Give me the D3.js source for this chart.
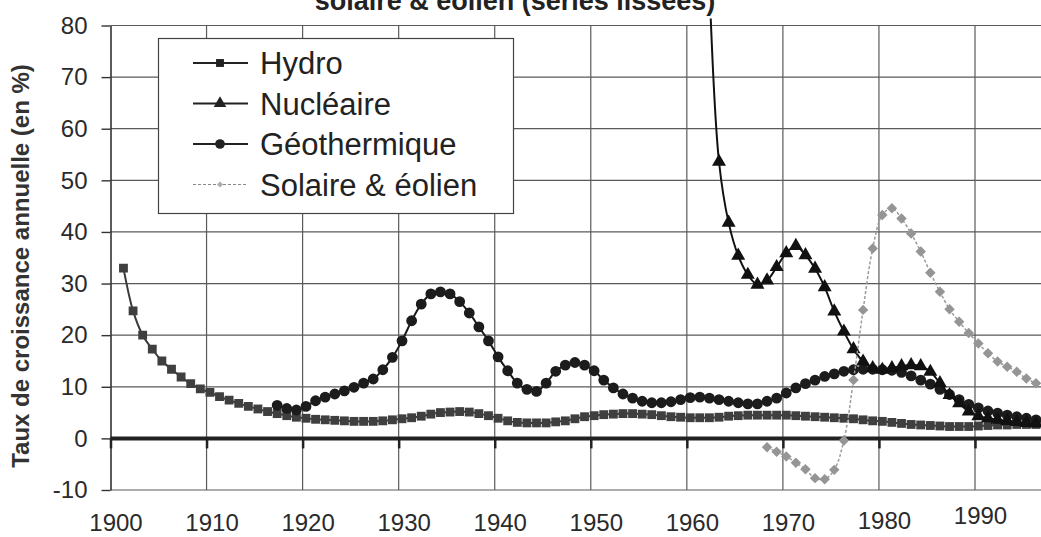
<!DOCTYPE html>
<html>
<head>
<meta charset="utf-8">
<script src="https://cdn.jsdelivr.net/npm/d3@7/dist/d3.min.js"></script>
<style>
  body { margin: 0; background: #fff; }
  svg { display: block; }
  text { font-family: "Liberation Sans", Arial, Helvetica, sans-serif; }
</style>
</head>
<body>
<svg id="chart" width="1041" height="537"></svg>
<script>
// ---------------- DATA ----------------
const yearTicks = [1900, 1910, 1920, 1930, 1940, 1950, 1960, 1970, 1980, 1990];
const valueTicks = [-10, 0, 10, 20, 30, 40, 50, 60, 70, 80];
const seriesNames = ["Hydro", "Nucléaire", "Géothermique", "Solaire & éolien"];

const hydroStart = 1901;
const hydroValues = [
  33, 24.7, 20, 17.3, 15, 13.4, 11.9, 10.6, 9.6, 8.9,
  8.1, 7.4, 6.8, 6.2, 5.7, 5.2, 4.8, 4.4, 4.1, 3.9,
  3.7, 3.6, 3.5, 3.4, 3.3, 3.3, 3.3, 3.4, 3.6, 3.8,
  4.0, 4.3, 4.7, 5.0, 5.1, 5.2, 5.1, 4.8, 4.4, 3.9,
  3.4, 3.1, 3.0, 3.0, 3.0, 3.2, 3.4, 3.8, 4.2, 4.4,
  4.6, 4.7, 4.8, 4.8, 4.7, 4.6, 4.4, 4.2, 4.1, 4.0,
  4.0, 4.0, 4.1, 4.3, 4.4, 4.5, 4.5, 4.5, 4.5, 4.5,
  4.4, 4.3, 4.2, 4.1, 4.0, 3.9, 3.8, 3.6, 3.4, 3.3,
  3.1, 2.9, 2.7, 2.6, 2.5, 2.4, 2.3, 2.3, 2.3, 2.4,
  2.5, 2.6, 2.6, 2.7, 2.7, 2.7
];

const nuclearStart = 1962;
const nuclearValues = [
  88, 53.6, 41.8, 35.4, 31.7, 29.8, 30.6, 33.2, 35.9, 37.3,
  35.5, 32.9, 29.3, 24.6, 20.7, 17.3, 14.9, 13.6, 13.3, 13.6,
  14.0, 14.2, 14.0, 12.9, 10.7, 8.4, 6.8, 5.2, 4.3, 3.9,
  3.6, 3.4, 3.2, 3.0, 2.9
];

const geoStart = 1917;
const geoValues = [
  6.4, 5.8, 5.5, 6.2, 7.3, 8.0, 8.6, 9.2, 9.9, 10.7,
  11.5, 13.3, 15.7, 18.9, 22.8, 26.0, 28.0, 28.4, 28.0, 26.5,
  24.3, 21.6, 18.9, 15.8, 13.1, 10.7, 9.5, 9.1, 10.7, 13.0,
  14.2, 14.7, 14.2, 13.1, 11.3, 9.8, 8.6, 7.8, 7.2, 6.9,
  6.9, 7.1, 7.5, 7.9, 8.0, 7.8, 7.5, 7.2, 6.9, 6.7,
  6.7, 7.2, 7.8, 8.8, 9.8, 10.6, 11.3, 12.0, 12.5, 13.0,
  13.3, 13.4, 13.4, 13.3, 13.2, 12.8, 12.1, 11.3, 10.5, 9.5,
  8.5, 7.5, 6.6, 5.9, 5.3, 4.9, 4.5, 4.2, 3.9, 3.6
];

const solarStart = 1968;
const solarValues = [
  -1.7, -2.6, -3.5, -4.7, -6.0, -7.7, -7.9, -6.1, -0.4, 11.3,
  24.9, 36.8, 43.3, 44.6, 42.6, 39.7, 36.2, 32.1, 28.4, 25.0,
  22.6, 20.4, 18.4, 16.5, 14.9, 13.9, 12.9, 11.6, 10.7
];

const titleText = "solaire & éolien (séries lissées)";
const yTitleText = "Taux de croissance annuelle (en %)";

// ---------------- LAYOUT ----------------
const svg = d3.select("#chart");
const pLeft = 110.5, pRight = 1041, pTop = 25.5, pBottom = 490;
const yearOffset = 0.35; // points plotted slightly after the year tick

const x = d3.scaleLinear().domain([1900, 1990]).range([pLeft, 975]);
const y = d3.scaleLinear().domain([-10, 80]).range([pBottom, pTop]);

function toPoints(start, vals) { return vals.map((v, i) => ({ year: start + i, v })); }
const hydro = toPoints(hydroStart, hydroValues);
const nuclear = toPoints(nuclearStart, nuclearValues);
const geo = toPoints(geoStart, geoValues);
const solar = toPoints(solarStart, solarValues);

svg.append("defs").append("clipPath").attr("id", "plotClip")
  .append("rect").attr("x", pLeft).attr("y", pTop - 7).attr("width", pRight - pLeft).attr("height", pBottom - pTop + 20);

// Title (partially cut at top, as in the reference)
svg.append("text").attr("x", 515).attr("y", 10)
  .attr("text-anchor", "middle").attr("font-weight", "bold").attr("font-size", 27)
  .attr("fill", "#222").text(titleText);

// Y title
svg.append("text")
  .attr("transform", `translate(29,${266}) rotate(-90)`)
  .attr("text-anchor", "middle").attr("font-weight", "bold").attr("font-size", 24)
  .attr("fill", "#333").text(yTitleText);

// Grid
const grid = svg.append("g");
grid.selectAll("line.h").data(valueTicks.filter(v => v !== 0)).enter().append("line")
  .attr("x1", pLeft).attr("x2", pRight).attr("y1", d => y(d)).attr("y2", d => y(d))
  .attr("stroke", "#5a5a5a").attr("stroke-width", 1.2);
grid.selectAll("line.v").data(yearTicks.filter(t => t !== 1900)).enter().append("line")
  .attr("x1", d => x(d)).attr("x2", d => x(d)).attr("y1", pTop).attr("y2", pBottom)
  .attr("stroke", "#5a5a5a").attr("stroke-width", 1.2);

// Y axis
const yAxis = svg.append("g").attr("transform", `translate(${pLeft},0)`)
  .call(d3.axisLeft(y).tickValues(valueTicks).tickSize(9).tickSizeOuter(0).tickPadding(14)
    .tickFormat(d => String(d)));
yAxis.select(".domain").attr("stroke", "#333").attr("stroke-width", 1.6);
yAxis.selectAll(".tick line").attr("stroke", "#333").attr("stroke-width", 1.4);
yAxis.selectAll(".tick text").attr("font-size", 24).attr("fill", "#2a2a2a")
  .attr("font-family", '"Liberation Sans", Arial, sans-serif');

// X axis at zero
const xAxis = svg.append("g").attr("transform", `translate(0,${y(0)})`)
  .call(d3.axisBottom(x).tickValues(yearTicks).tickSize(10).tickSizeOuter(0).tickFormat(d3.format("d")));
xAxis.select(".domain").attr("stroke", "#222").attr("stroke-width", 4)
  .attr("d", `M${pLeft},0H${pRight}`);
xAxis.selectAll(".tick line").attr("stroke", "#222").attr("stroke-width", 2.5);
xAxis.selectAll(".tick text")
  .attr("font-size", 24).attr("fill", "#2a2a2a")
  .attr("font-family", '"Liberation Sans", Arial, sans-serif')
  .attr("dy", 0).attr("dx", 5)
  .attr("y", d => 93 - (d >= 1980 ? (d - 1975) * 0.5 : 0));

// Legend box
const lg = svg.append("g");
lg.append("rect").attr("x", 158.5).attr("y", 38.5).attr("width", 355).attr("height", 175)
  .attr("fill", "#fff").attr("stroke", "#444").attr("stroke-width", 1.2);

// Series
const lineGen = d3.line().x(d => x(d.year + yearOffset)).y(d => y(d.v))
  .curve(d3.curveCatmullRom.alpha(0.5));
const plot = svg.append("g").attr("clip-path", "url(#plotClip)");

const styles = [
  { data: hydro, stroke: "#3a3a3a", width: 2, dash: null, sym: d3.symbolSquare, size: 78, fill: "#3f3f3f", rot: 0 },
  { data: nuclear, stroke: "#111", width: 2, dash: null, sym: d3.symbolTriangle, size: 85, fill: "#111", rot: 0 },
  { data: geo, stroke: "#1a1a1a", width: 2, dash: null, sym: d3.symbolCircle, size: 92, fill: "#1c1c1c", rot: 0 },
  { data: solar, stroke: "#9a9a9a", width: 1.5, dash: "3,2", sym: d3.symbolSquare, size: 55, fill: "#959595", rot: 45 }
];
const drawOrder = [0, 2, 1, 3];
drawOrder.forEach(i => {
  const s = styles[i];
  plot.append("path").datum(s.data).attr("d", lineGen)
    .attr("fill", "none").attr("stroke", s.stroke).attr("stroke-width", s.width)
    .attr("stroke-dasharray", s.dash);
  plot.selectAll(null).data(s.data).enter().append("path")
    .attr("d", d3.symbol().type(s.sym).size(s.size))
    .attr("transform", d => `translate(${x(d.year + yearOffset)},${y(d.v)}) rotate(${s.rot})`)
    .attr("fill", s.fill);
});

// Legend items
const legendY0 = 63, legendStep = 40.5;
seriesNames.forEach((name, i) => {
  const s = styles[i];
  const cy = legendY0 + i * legendStep;
  lg.append("line").attr("x1", 193).attr("x2", 248).attr("y1", cy).attr("y2", cy)
    .attr("stroke", i === 3 ? "#888" : "#222").attr("stroke-width", i === 3 ? 1.2 : 2)
    .attr("stroke-dasharray", i === 3 ? "3,2" : null);
  lg.append("path").attr("d", d3.symbol().type(s.sym).size(i === 3 ? 18 : s.size * 0.8))
    .attr("transform", `translate(220,${cy}) rotate(${s.rot})`)
    .attr("fill", i === 3 ? "#aaa" : "#222");
  lg.append("text").attr("x", 260).attr("y", cy).attr("dy", "0.36em")
    .attr("font-size", 31).attr("fill", "#222").text(name);
});
</script>
</body>
</html>
